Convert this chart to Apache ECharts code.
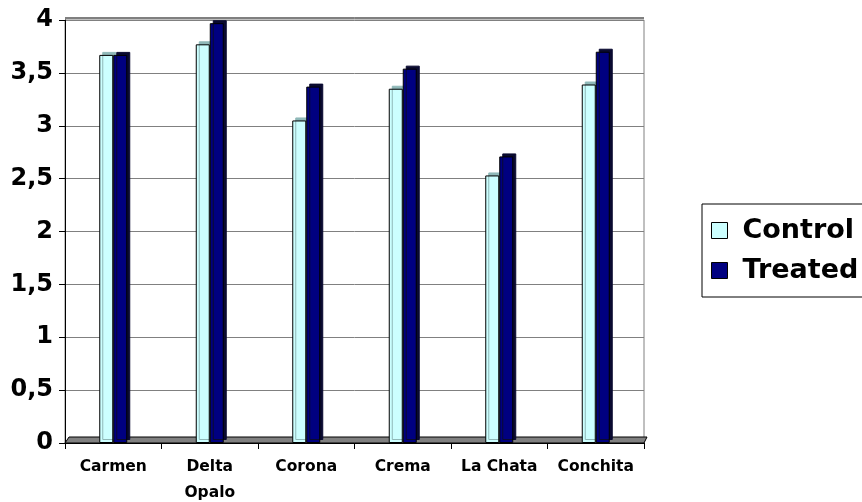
<!DOCTYPE html>
<html>
<head>
<meta charset="utf-8">
<script src="https://cdn.jsdelivr.net/npm/echarts@6/dist/echarts.min.js"></script>
<style>
  html, body { margin: 0; padding: 0; background: #fff; overflow: hidden; }
  #chart { width: 862px; height: 502px; }
</style>
</head>
<body>
<div id="chart"></div>
<script>
// datos
var categories = ['Carmen', 'Delta\nOpalo', 'Corona', 'Crema', 'La Chata', 'Conchita'];
var controlValues = [3.67, 3.77, 3.05, 3.35, 2.53, 3.39];
var treatedValues = [3.67, 3.97, 3.37, 3.54, 2.71, 3.70];

var fontName = 'DejaVu Sans, Liberation Sans, Arial, sans-serif';
var myChart = echarts.init(document.getElementById('chart'));

// estilo común de barras (efecto 3D con sombra)
function barStyle(color, side) {
  return {
    color: color,
    borderColor: '#000',
    borderWidth: 1,
    shadowColor: side,
    shadowBlur: 0,
    shadowOffsetX: 3,
    shadowOffsetY: -3
  };
}

var option = {
  backgroundColor: '#fff',
  textStyle: { fontFamily: fontName },
  grid: {
    left: 65,
    right: 218,
    top: 20,
    bottom: 59,
    outerBoundsMode: 'none',
    show: true,
    borderColor: '#808080',
    borderWidth: 1
  },
  legend: {
    orient: 'vertical',
    left: 702,
    top: 204,
    padding: [13, 40, 13, 9],
    itemGap: 13,
    itemWidth: 16,
    itemHeight: 16,
    icon: 'rect',
    borderColor: '#000',
    borderWidth: 1,
    textStyle: { fontSize: 27, fontWeight: 'bold', color: '#000', fontFamily: fontName, padding: [0, 0, 0, 10] },
    data: [
      { name: 'Control', itemStyle: { color: '#ccffff', borderColor: '#000', borderWidth: 1, shadowOffsetX: 0, shadowOffsetY: 0 } },
      { name: 'Treated', itemStyle: { color: '#000080', borderColor: '#000', borderWidth: 1, shadowOffsetX: 0, shadowOffsetY: 0 } }
    ]
  },
  xAxis: {
    type: 'category',
    data: categories,
    axisLine: { show: true, lineStyle: { color: '#000', width: 1 } },
    axisTick: { show: true, interval: 0, length: 6, lineStyle: { color: '#000' } },
    axisLabel: {
      interval: 0,
      hideOverlap: false,
      margin: 11,
      fontSize: 15.5,
      fontWeight: 'bold',
      color: '#000',
      lineHeight: 26,
      fontFamily: fontName
    },
    splitLine: { show: false }
  },
  yAxis: {
    type: 'value',
    min: 0,
    max: 4,
    interval: 0.5,
    axisLine: { show: true, lineStyle: { color: '#000', width: 1 } },
    axisTick: { show: true, length: 6, lineStyle: { color: '#000' } },
    axisLabel: {
      margin: 12,
      fontSize: 24,
      fontWeight: 'bold',
      color: '#000',
      fontFamily: fontName,
      formatter: function (v) { return String(v).replace('.', ','); }
    },
    splitLine: { show: true, lineStyle: { color: '#808080', width: 1 } }
  },
  series: [
    {
      name: 'Control',
      type: 'bar',
      data: controlValues,
      barWidth: 14,
      barGap: '0%',
      itemStyle: barStyle('#ccffff', '#8fb8b8'),
      z: 2
    },
    {
      name: 'Treated',
      type: 'bar',
      data: treatedValues,
      barWidth: 14,
      barGap: '0%',
      itemStyle: barStyle('#000080', '#0a0a30'),
      z: 3
    }
  ]
};
myChart.setOption(option);

// suelo gris del gráfico 3D y borde superior
var p0 = myChart.convertToPixel({ gridIndex: 0 }, [0, 0]);
var gridRect = myChart.getModel().getComponent('grid').coordinateSystem.getRect();
myChart.setOption({
  graphic: [{
    type: 'polygon',
    z: 1,
    shape: {
      points: [
        [gridRect.x + 4, p0[1] - 6],
        [gridRect.x + gridRect.width + 3, p0[1] - 6],
        [gridRect.x + gridRect.width, p0[1]],
        [gridRect.x, p0[1]]
      ]
    },
    style: { fill: '#808080', stroke: '#000', lineWidth: 1 }
  }, {
    type: 'line',
    z: 1,
    shape: { x1: gridRect.x, y1: gridRect.y - 2, x2: gridRect.x + gridRect.width, y2: gridRect.y - 2 },
    style: { stroke: '#000', lineWidth: 1 }
  }]
});
</script>
</body>
</html>
